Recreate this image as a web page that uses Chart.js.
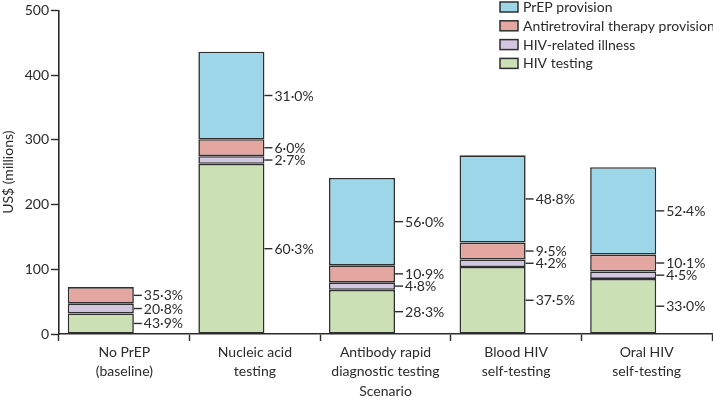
<!DOCTYPE html>
<html>
<head>
<meta charset="utf-8">
<script src="https://cdn.jsdelivr.net/npm/chart.js@4/dist/chart.umd.min.js"></script>
<style>
  html, body { margin: 0; padding: 0; background: #fff; }
  #wrap { position: relative; width: 713px; height: 397px; }
</style>
</head>
<body>
<div id="wrap"><canvas id="chart"></canvas></div>
<script>
const categories = [
  ["No PrEP", "(baseline)"],
  ["Nucleic acid", "testing"],
  ["Antibody rapid", "diagnostic testing"],
  ["Blood HIV", "self-testing"],
  ["Oral HIV", "self-testing"]
]

// US$ millions
const hivTesting = [31.8, 262.9, 68.2, 103.5, 85.1]
const hivIllness = [15.1, 11.8, 11.6, 11.6, 11.6]
const artProvision = [25.6, 26.2, 26.3, 26.2, 26.0]
const prepProvision = [0, 135.2, 135.0, 134.7, 135.1]

const testingPct = ["43·9%", "60·3%", "28·3%", "37·5%", "33·0%"]
const illnessPct = ["20·8%", "2·7%", "4·8%", "4·2%", "4·5%"]
const artPct = ["35·3%", "6·0%", "10·9%", "9·5%", "10·1%"]
const prepPct = [null, "31·0%", "56·0%", "48·8%", "52·4%"]

const yTicks = [0, 100, 200, 300, 400, 500]

const FONT = "Lato, 'Open Sans', sans-serif"
const INK = "#2b2b2b"
const EDGE = "#2f2f2f"

// bars sit left of the category centre so the percentage labels fit
const barShift = {
  id: "barShift",
  afterDatasetsUpdate(chart) {
    const x = chart.scales.x
    const step = (x.right - x.left) / chart.data.labels.length
    chart.data.datasets.forEach((ds, i) => {
      chart.getDatasetMeta(i).data.forEach(el => { el.x -= step * 0.18 })
    })
  }
}

const pctLabels = {
  id: "pctLabels",
  afterDatasetsDraw(chart) {
    const ctx = chart.ctx
    ctx.save()
    ctx.font = "14px " + FONT
    ctx.fillStyle = INK
    ctx.strokeStyle = INK
    ctx.lineWidth = 1.4
    ctx.textBaseline = "middle"
    chart.data.datasets.forEach((ds, i) => {
      chart.getDatasetMeta(i).data.forEach((el, j) => {
        const txt = ds.pct[j]
        if (!txt) return
        const right = el.x + el.width / 2
        const y = (el.y + el.base) / 2
        ctx.beginPath()
        ctx.moveTo(right, y)
        ctx.lineTo(right + 8, y)
        ctx.stroke()
        ctx.fillText(txt, right + 10, y + 0.5)
      })
    })
    ctx.restore()
  }
}

const boxLegend = {
  id: "boxLegend",
  afterDraw(chart) {
    const ctx = chart.ctx
    ctx.save()
    ctx.font = "14px " + FONT
    ctx.textBaseline = "middle"
    const items = chart.data.datasets.slice().reverse()
    items.forEach((ds, i) => {
      const y = 7 + i * 18.8
      ctx.fillStyle = ds.backgroundColor
      ctx.fillRect(500, y - 5, 18, 10)
      ctx.strokeStyle = EDGE
      ctx.lineWidth = 1.5
      ctx.strokeRect(500, y - 5, 18, 10)
      ctx.fillStyle = INK
      ctx.fillText(ds.label, 523, y + 0.5)
    })
    ctx.restore()
  }
}

const makeSet = (label, data, pct, color) => ({
  label: label,
  data: data,
  pct: pct,
  backgroundColor: color,
  borderColor: EDGE,
  borderWidth: 1.6,
  borderSkipped: false,
  barPercentage: 0.506,
  categoryPercentage: 1
})

new Chart(document.getElementById("chart"), {
  type: "bar",
  data: {
    labels: categories,
    datasets: [
      makeSet("HIV testing", hivTesting, testingPct, "#cbe1b5"),
      makeSet("HIV-related illness", hivIllness, illnessPct, "#d3c6e1"),
      makeSet("Antiretroviral therapy provision", artProvision, artPct, "#e3a6a0"),
      makeSet("PrEP provision", prepProvision, prepPct, "#9dd6e8")
    ]
  },
  plugins: [barShift, pctLabels, boxLegend],
  options: {
    responsive: true,
    maintainAspectRatio: false,
    animation: false,
    layout: { padding: { top: 5, right: 1, bottom: 0, left: 0 } },
    plugins: {
      legend: { display: false },
      tooltip: { enabled: false }
    },
    scales: {
      x: {
        stacked: true,
        offset: true,
        grid: { offset: true, drawOnChartArea: false, tickLength: 7, tickColor: INK, tickWidth: 1.4 },
        border: { color: INK, width: 1.6 },
        ticks: { color: INK, font: { family: FONT, size: 14, lineHeight: 1.35 }, padding: 2, maxRotation: 0 },
        title: { display: true, text: "Scenario", color: INK, font: { family: FONT, size: 14 }, padding: { top: 0, bottom: -3 } },
        afterFit: (s) => { s.height = 63 }
      },
      y: {
        stacked: true,
        min: 0,
        max: 500,
        afterBuildTicks: (s) => { s.ticks = yTicks.map(v => ({ value: v })) },
        grid: { drawOnChartArea: false, tickLength: 8, tickColor: INK, tickWidth: 1.4 },
        border: { color: INK, width: 1.6 },
        ticks: { color: INK, font: { family: FONT, size: 14 }, padding: 2 },
        title: { display: true, text: "US$ (millions)", color: INK, font: { family: FONT, size: 14 }, padding: { top: 0, bottom: 1 } },
        afterFit: (s) => { s.width = 59 }
      }
    }
  }
})
</script>
</body>
</html>
